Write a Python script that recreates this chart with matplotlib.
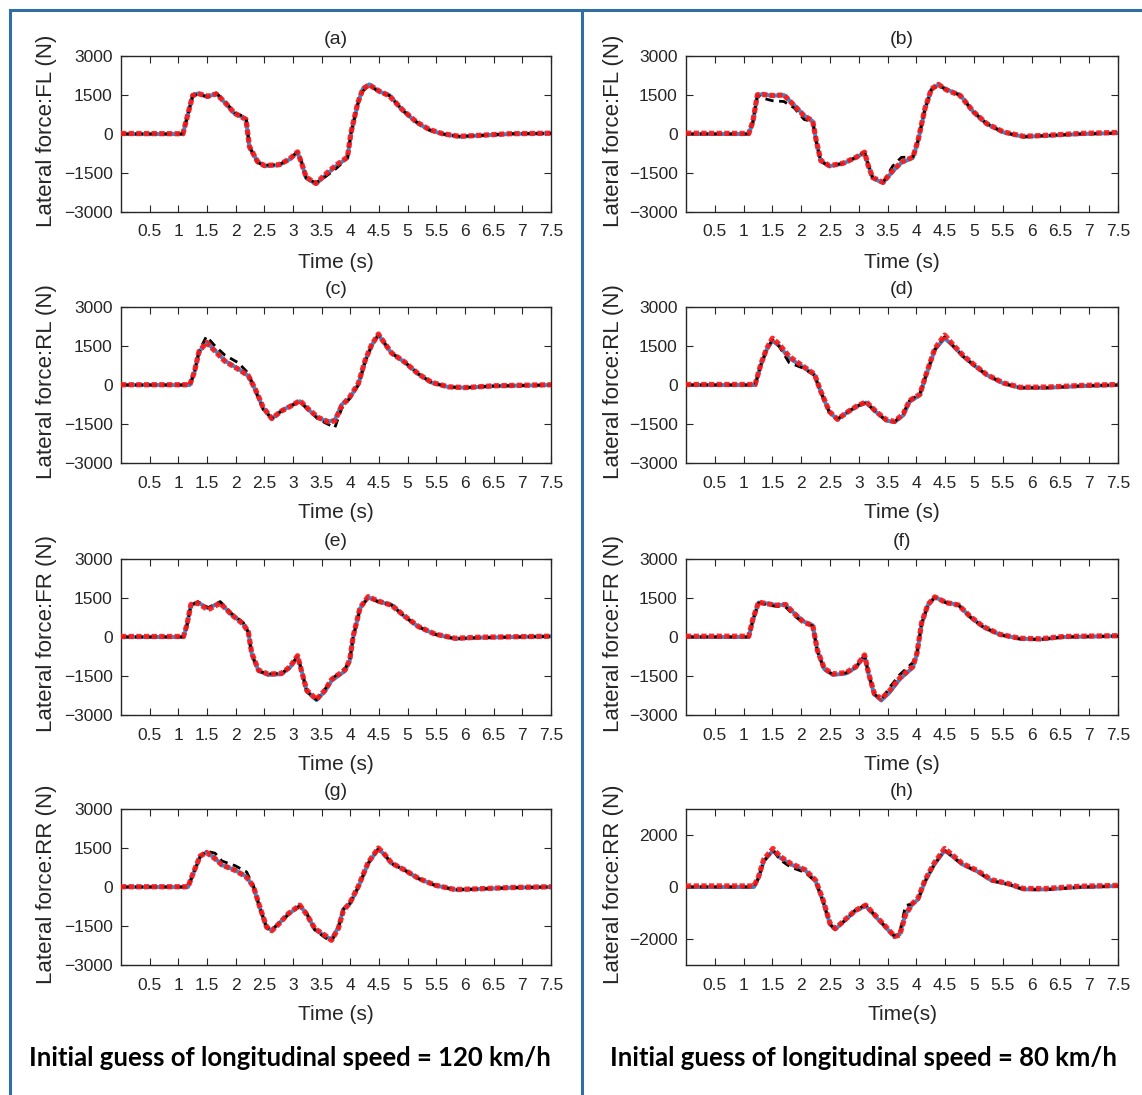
import numpy as np
import matplotlib
matplotlib.use("Agg")
import matplotlib.pyplot as plt
from matplotlib.lines import Line2D

W, H = 1142, 1095

# ---------------- data: lateral tyre forces (N) versus time (s) ----------------
# (a) FL, 120 km/h
t_a = [0, 1.08, 1.25, 1.34, 1.51, 1.66, 1.80, 1.98, 2.18, 2.24, 2.38, 2.50, 2.76, 2.94, 3.08, 3.14,
       3.23, 3.40, 3.58, 3.75, 3.95, 4.01, 4.13, 4.22, 4.33, 4.51, 4.68, 4.91, 5.15, 5.38, 5.61,
       5.90, 6.19, 6.77, 7.5]
blue_a = [0, 0, 1500, 1560, 1430, 1560, 1235, 780, 585, -520, -1040, -1235, -1196, -975, -715, -1040,
          -1690, -1924, -1560, -1235, -910, 0, 1170, 1755, 1910, 1625, 1500, 910, 455, 156, 0,
          -104, -65, 0, 26]
red_a = [20, 10, 1480, 1560, 1450, 1540, 1250, 800, 560, -480, -1060, -1215, -1180, -960, -690, -1060,
         -1660, -1900, -1520, -1200, -890, 40, 1200, 1740, 1890, 1640, 1470, 930, 470, 170, 10,
         -90, -60, 10, 30]
black_a = [0, 0, 1450, 1540, 1420, 1570, 1300, 820, 640, -480, -1100, -1200, -1180, -950, -680, -1000,
           -1700, -1880, -1620, -1330, -930, 30, 1150, 1650, 1880, 1600, 1480, 920, 470, 150, 0,
           -90, -70, 10, 20]

# (b) FL, 80 km/h
t_b = [0, 1.09, 1.16, 1.24, 1.33, 1.50, 1.70, 1.88, 2.05, 2.20, 2.26, 2.34, 2.49, 2.72, 2.95, 3.10,
       3.16, 3.24, 3.42, 3.59, 3.74, 3.94, 4.03, 4.15, 4.26, 4.38, 4.52, 4.76, 4.99, 5.22, 5.51,
       5.86, 6.27, 6.85, 7.5]
blue_b = [0, 0, 455, 1500, 1530, 1470, 1500, 1105, 715, 494, -260, -1040, -1235, -1144, -910, -715,
          -1170, -1690, -1885, -1430, -1105, -910, -260, 975, 1716, 1900, 1716, 1500, 845, 390, 65,
          -104, -65, 0, 39]
red_b = [30, 20, 470, 1510, 1520, 1480, 1500, 1090, 700, 500, -240, -1020, -1220, -1130, -900, -700,
         -1190, -1670, -1860, -1410, -1080, -890, -230, 990, 1730, 1910, 1700, 1480, 860, 400, 80,
         -90, -50, 20, 60]
black_b = [0, 0, 440, 1480, 1380, 1280, 1250, 1000, 560, 470, -280, -1060, -1230, -1130, -900, -700,
           -1150, -1680, -1860, -1230, -900, -880, -240, 960, 1700, 1880, 1700, 1490, 850, 400, 60,
           -110, -60, 0, 30]

# (c) RL, 120 km/h
t_c = [0, 1.20, 1.28, 1.36, 1.49, 1.64, 1.81, 2.05, 2.22, 2.34, 2.48, 2.63, 2.80, 2.98, 3.12, 3.27,
       3.44, 3.62, 3.73, 3.85, 3.99, 4.14, 4.26, 4.37, 4.49, 4.60, 4.72, 4.95, 5.19, 5.42, 5.71,
       6.00, 6.52, 7.5]
blue_c = [0, 0, 480, 1260, 1650, 1330, 936, 611, 350, -170, -884, -1300, -988, -780, -624, -950,
          -1274, -1404, -1340, -754, -494, 26, 936, 1520, 1937, 1586, 1222, 871, 416, 91, -78,
          -104, -39, 0]
red_c = [10, 10, 500, 1280, 1640, 1300, 920, 600, 360, -150, -860, -1290, -1000, -790, -600, -930,
         -1250, -1420, -1380, -800, -460, 60, 960, 1540, 1960, 1600, 1230, 880, 420, 100, -70,
         -100, -30, 10]
black_c = [0, 0, 470, 1300, 1870, 1500, 1150, 850, 450, -200, -950, -1280, -1000, -780, -640, -960,
           -1320, -1520, -1640, -900, -520, 0, 900, 1500, 1920, 1600, 1230, 880, 420, 90, -80,
           -100, -40, 0]

# (d) RL, 80 km/h
t_d = [0, 1.20, 1.30, 1.40, 1.50, 1.62, 1.79, 2.02, 2.23, 2.34, 2.49, 2.63, 2.81, 2.98, 3.13, 3.30,
       3.48, 3.62, 3.77, 3.88, 4.06, 4.17, 4.32, 4.49, 4.64, 4.81, 4.99, 5.22, 5.51, 5.80, 6.27,
       6.85, 7.5]
blue_d = [0, 0, 780, 1365, 1700, 1500, 1040, 715, 390, -260, -1040, -1326, -1040, -806, -676, -1040,
          -1365, -1430, -1170, -650, -390, 390, 1365, 1800, 1500, 1105, 780, 390, 65, -104, -104,
          -39, 0]
red_d = [20, 20, 800, 1400, 1800, 1560, 1100, 740, 420, -240, -1020, -1320, -1030, -790, -650, -1020,
         -1340, -1400, -1120, -600, -360, 420, 1400, 1920, 1540, 1140, 800, 400, 80, -90, -80,
         -20, 20]
black_d = [0, 0, 760, 1350, 1750, 1480, 860, 660, 380, -270, -1050, -1310, -1030, -800, -680, -1050,
           -1380, -1420, -1100, -600, -330, 380, 1350, 1860, 1490, 1100, 770, 390, 60, -110, -110,
           -40, 0]

# (e) FR, 120 km/h
t_e = [0, 1.09, 1.15, 1.22, 1.34, 1.52, 1.73, 1.93, 2.13, 2.22, 2.28, 2.40, 2.57, 2.80, 2.95, 3.08,
       3.15, 3.24, 3.41, 3.56, 3.67, 3.91, 3.99, 4.05, 4.17, 4.31, 4.49, 4.72, 4.95, 5.19, 5.48,
       5.83, 6.23, 7.5]
blue_e = [0, 0, 455, 1235, 1326, 1105, 1326, 845, 520, 195, -650, -1300, -1456, -1430, -1170, -754,
          -1300, -2080, -2430, -2080, -1690, -1300, -910, 0, 1105, 1534, 1365, 1235, 780, 390, 104,
          -65, -26, 26]
red_e = [20, 20, 470, 1250, 1300, 1050, 1300, 860, 500, 200, -620, -1280, -1430, -1400, -1140, -720,
         -1320, -2050, -2400, -2040, -1640, -1260, -880, 30, 1130, 1550, 1380, 1220, 800, 400, 110,
         -50, -10, 30]
black_e = [0, 0, 440, 1220, 1360, 1130, 1360, 900, 560, 180, -680, -1320, -1420, -1400, -1150, -730,
           -1280, -2100, -2410, -2000, -1620, -1200, -900, 0, 1080, 1520, 1350, 1230, 780, 390, 100,
           -70, -30, 20]

# (f) FR, 80 km/h
t_f = [0, 1.09, 1.16, 1.26, 1.38, 1.56, 1.73, 1.88, 2.05, 2.20, 2.28, 2.40, 2.55, 2.78, 2.95, 3.10,
       3.17, 3.27, 3.39, 3.53, 3.71, 3.94, 4.01, 4.09, 4.20, 4.32, 4.52, 4.73, 4.93, 5.16, 5.45,
       5.80, 6.15, 6.56, 7.5]
blue_f = [0, 0, 650, 1326, 1300, 1235, 1235, 910, 585, 455, -520, -1235, -1456, -1404, -1170, -715,
          -1430, -2210, -2444, -2145, -1625, -1170, -650, 520, 1235, 1534, 1326, 1235, 780, 390, 91,
          -65, -91, 0, 39]
red_f = [30, 30, 680, 1340, 1290, 1220, 1250, 900, 560, 450, -500, -1210, -1420, -1370, -1140, -690,
         -1400, -2180, -2380, -2080, -1580, -1130, -620, 540, 1250, 1540, 1320, 1230, 800, 400, 100,
         -50, -70, 20, 50]
black_f = [0, 0, 630, 1310, 1250, 1180, 1150, 820, 520, 430, -540, -1250, -1440, -1380, -1160, -700,
           -1420, -2190, -2420, -1950, -1450, -980, -640, 500, 1220, 1520, 1310, 1230, 770, 380, 80,
           -80, -100, 0, 30]

# (g) RR, 120 km/h
t_g = [0, 1.17, 1.26, 1.38, 1.49, 1.64, 1.76, 1.99, 2.19, 2.31, 2.42, 2.54, 2.63, 2.74, 2.92, 3.12,
       3.24, 3.38, 3.56, 3.67, 3.79, 3.88, 3.99, 4.14, 4.31, 4.49, 4.60, 4.72, 4.95, 5.19, 5.48,
       5.83, 6.23, 6.81, 7.5]
blue_g = [0, 0, 520, 1170, 1340, 1105, 845, 650, 390, 0, -780, -1560, -1664, -1430, -1040, -715,
          -1040, -1625, -1885, -2015, -1560, -845, -650, 0, 910, 1470, 1235, 910, 650, 325, 65,
          -104, -78, -26, 0]
red_g = [10, 10, 540, 1190, 1330, 1090, 850, 640, 380, 20, -760, -1540, -1680, -1450, -1020, -700,
         -1060, -1600, -1860, -2050, -1600, -900, -620, 30, 940, 1500, 1250, 920, 650, 330, 70,
         -100, -70, -20, 10]
black_g = [0, 0, 500, 1160, 1380, 1300, 1000, 820, 580, 40, -800, -1560, -1650, -1420, -1060, -730,
           -1020, -1650, -1950, -2100, -1600, -850, -640, 0, 900, 1460, 1240, 900, 640, 320, 60,
           -110, -80, -30, 0]

# (h) RR, 80 km/h
t_h = [0, 1.18, 1.26, 1.35, 1.51, 1.63, 1.82, 2.07, 2.25, 2.38, 2.50, 2.59, 2.75, 2.94, 3.12, 3.31,
       3.50, 3.62, 3.71, 3.81, 3.93, 4.03, 4.15, 4.31, 4.49, 4.62, 4.80, 5.05, 5.30, 5.61, 5.86,
       6.24, 6.86, 7.5]
blue_h = [0, 0, 360, 1000, 1400, 1130, 870, 640, 230, -540, -1430, -1630, -1300, -920, -730, -1180,
          -1630, -1920, -1820, -1050, -670, -470, 230, 870, 1400, 1190, 870, 610, 256, 100, -90,
          -90, 0, 40]
red_h = [40, 40, 400, 1060, 1480, 1180, 900, 660, 260, -500, -1400, -1600, -1280, -900, -700, -1150,
         -1600, -1900, -1850, -1080, -640, -430, 270, 920, 1480, 1240, 900, 640, 280, 120, -60,
         -60, 30, 60]
black_h = [0, 0, 350, 980, 1420, 1050, 760, 560, 200, -560, -1440, -1620, -1310, -880, -690, -1160,
           -1620, -1880, -1760, -720, -640, -480, 200, 850, 1420, 1170, 860, 600, 240, 90, -100,
           -110, -10, 30]

panel_letters = ["(a)", "(b)", "(c)", "(d)", "(e)", "(f)", "(g)", "(h)"]
wheel_names = ["FL", "FL", "RL", "RL", "FR", "FR", "RR", "RR"]
x_ticks = [0.5, 1, 1.5, 2, 2.5, 3, 3.5, 4, 4.5, 5, 5.5, 6, 6.5, 7, 7.5]
x_tick_labels = ["0.5", "1", "1.5", "2", "2.5", "3", "3.5", "4", "4.5", "5", "5.5", "6", "6.5", "7", "7.5"]
y_ticks_std = [-3000, -1500, 0, 1500, 3000]
y_ticks_h = [-2000, 0, 2000]
speed_labels = ["Initial guess of longitudinal speed = 120 km/h",
                "Initial guess of longitudinal speed = 80 km/h"]

series = [
    (t_a, blue_a, red_a, black_a), (t_b, blue_b, red_b, black_b),
    (t_c, blue_c, red_c, black_c), (t_d, blue_d, red_d, black_d),
    (t_e, blue_e, red_e, black_e), (t_f, blue_f, red_f, black_f),
    (t_g, blue_g, red_g, black_g), (t_h, blue_h, red_h, black_h),
]

# ---------------- layout ----------------
col_left = [121, 686]
col_width = [430, 432]
row_top = [56, 307, 559, 809]
ax_h = 156

TEXT = "#262626"
plt.rcParams["font.family"] = ["Liberation Sans", "DejaVu Sans"]

fig = plt.figure(figsize=(W / 100, H / 100), dpi=100)
fig.patch.set_facecolor("white")


def rect(left, top, width, height):
    return [left / W, 1 - (top + height) / H, width / W, height / H]


for i, (t, yb, yr, yk) in enumerate(series):
    r, c = divmod(i, 2)
    left, top, width = col_left[c], row_top[r], col_width[c]
    ax = fig.add_axes(rect(left, top, width, ax_h))
    ax.plot(t, yb, color="#2b8fd6", lw=2.8, zorder=2, solid_joinstyle="round")
    ax.plot(t, yk, color="black", lw=2.0, ls=(0, (3, 2)), zorder=3)
    ax.plot(t, yr, color="#ff1a1a", lw=3.8, ls=(0, (1, 0.45)), zorder=4, alpha=0.92)

    ax.set_xlim(0, 7.5)
    ax.set_ylim(-3000, 3000)
    ax.set_xticks(x_ticks)
    ax.set_xticklabels(x_tick_labels)
    ax.set_yticks(y_ticks_h if i == 7 else y_ticks_std)
    ax.tick_params(direction="in", length=5, width=0.8, top=True, right=True,
                   labelsize=12.5, colors=TEXT, pad=9)
    ax.tick_params(axis="y", pad=6)
    for sp in ax.spines.values():
        sp.set_color(TEXT)
        sp.set_linewidth(1.0)

    cx = left + width / 2
    fig.text(cx / W, 1 - (top - 17) / H, panel_letters[i], ha="center", va="center",
             fontsize=14, color=TEXT)
    xlabel = "Time(s)" if i == 7 else "Time (s)"
    fig.text(cx / W, 1 - (top + ax_h + 50) / H, xlabel, ha="center", va="center",
             fontsize=15, color=TEXT)
    lx = 47 if c == 0 else 613
    fig.text(lx / W, 1 - (top + ax_h / 2 - 3) / H, "Lateral force:%s (N)" % wheel_names[i],
             rotation=90, ha="center", va="center", fontsize=16, color=TEXT)

# captions under each column
for c, label in enumerate(speed_labels):
    cx = 290 if c == 0 else 863
    fig.text(cx / W, 1 - 1058 / H, label, ha="center", va="center",
             fontsize=18.5, fontweight="bold", family=["Lato", "DejaVu Sans"], color="black")

# blue frame separating the two cases
frame = "#2f6fa6"
fig.add_artist(Line2D([10 / W, 10 / W], [0, 1 - 10 / H], color=frame, lw=2.2))
fig.add_artist(Line2D([10 / W, 1], [1 - 10 / H, 1 - 10 / H], color=frame, lw=2.2))
fig.add_artist(Line2D([582 / W, 582 / W], [0, 1 - 10 / H], color=frame, lw=2.2))

fig.savefig("out.png", dpi=100)
